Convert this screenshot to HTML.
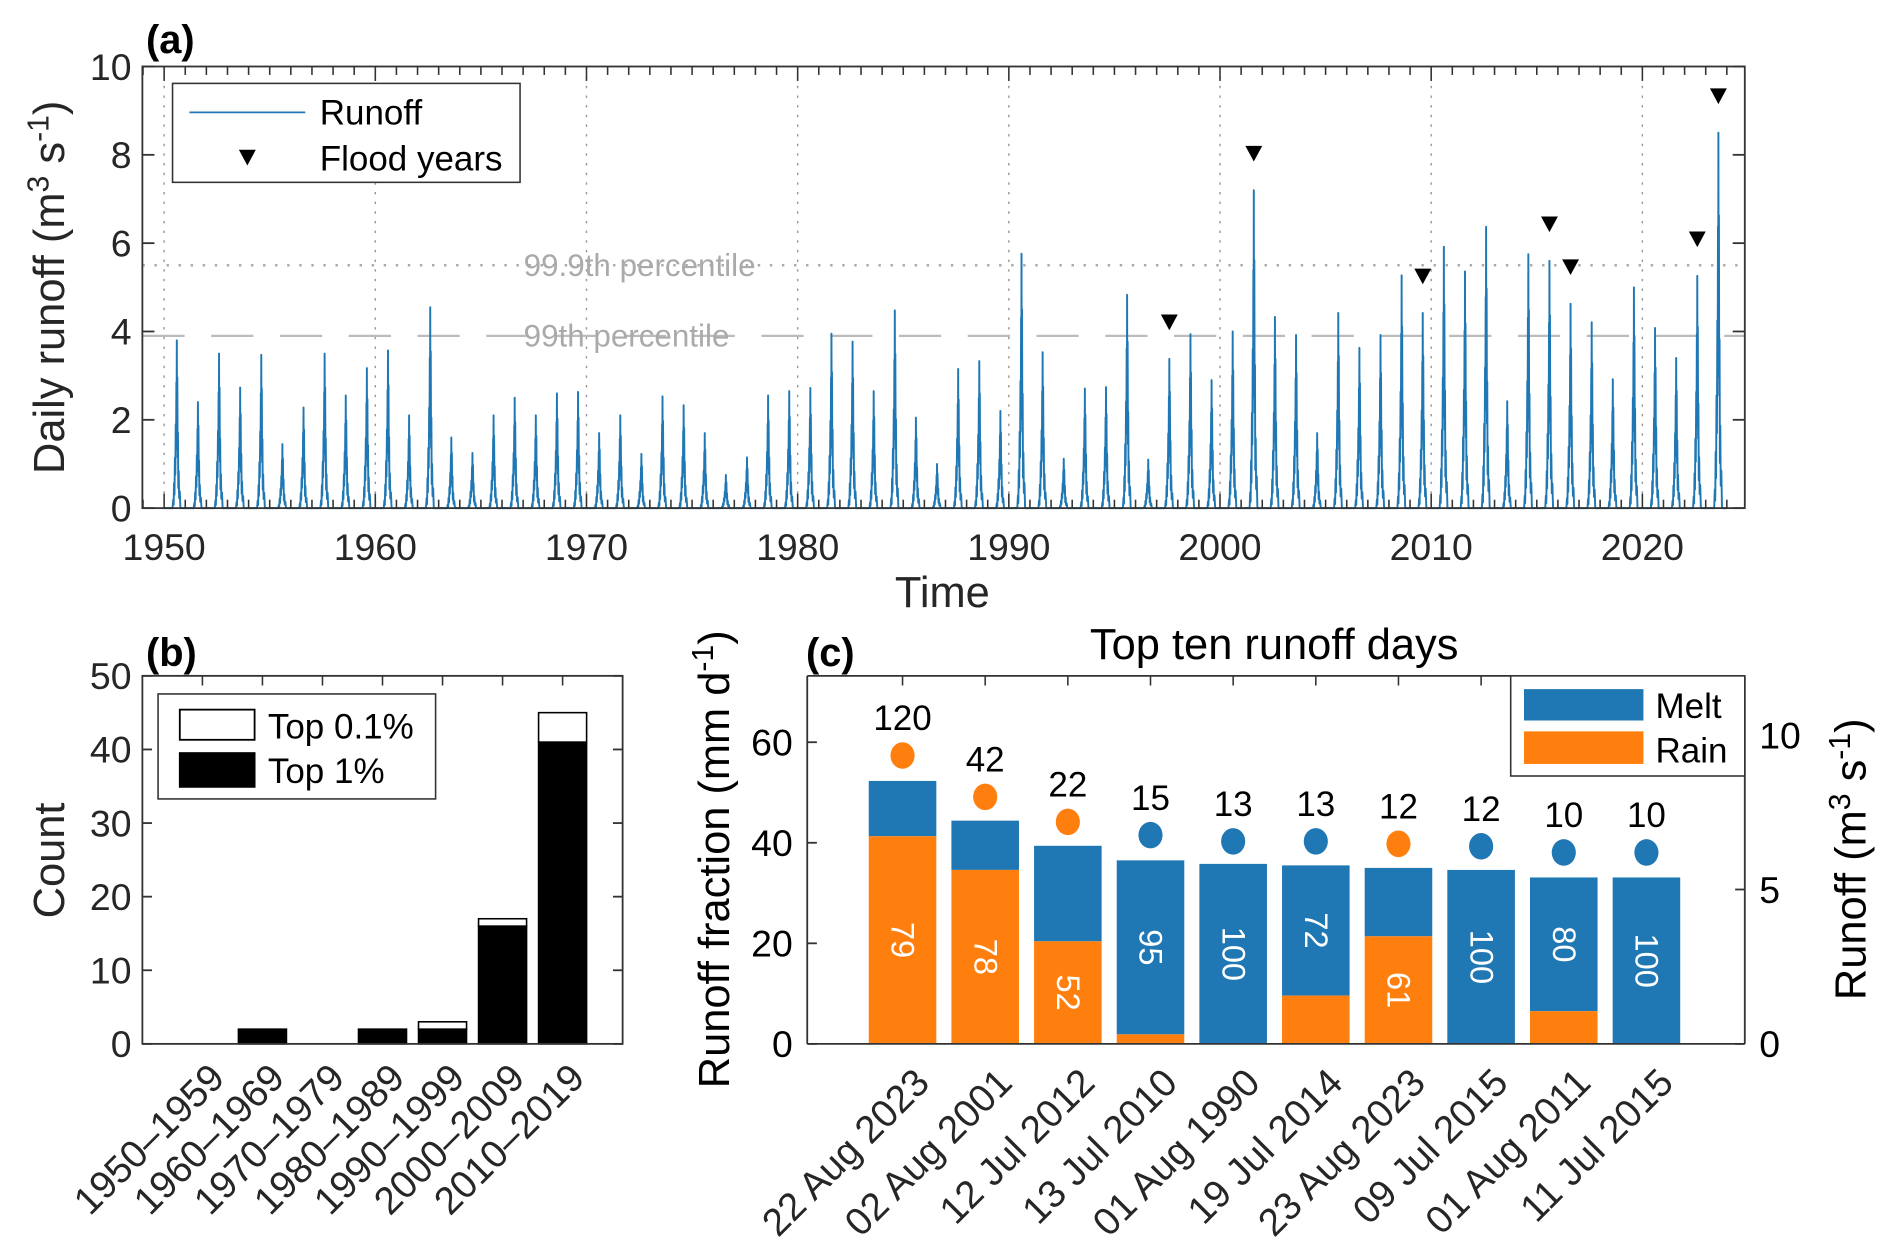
<!DOCTYPE html>
<html><head><meta charset="utf-8"><style>
html,body{margin:0;padding:0;background:#fff}
svg{display:block;font-family:"Liberation Sans",Arial,sans-serif}
</style></head><body>
<svg id="fig" width="1892" height="1260" viewBox="0 0 1568 1044" xmlns="http://www.w3.org/2000/svg">
<g id="pa"></g>
<g id="pb"></g>
<g id="pc"></g>
</svg>
<script>
// ---- Panel (a) data ----
const aStartYear = 1950;
const annualPeaks = [3.8,2.4,3.5,2.73,3.47,1.45,2.28,3.5,2.55,3.17,3.57,2.1,4.55,1.6,1.25,2.1,2.5,2.1,2.6,2.63,
 1.7,2.1,1.23,2.53,2.33,1.7,0.75,1.15,2.55,2.65,2.72,3.95,3.77,2.65,4.48,2.05,1.0,3.15,3.33,2.2,
 5.76,3.53,1.12,2.71,2.74,4.83,1.1,3.38,3.94,2.9,4.0,7.2,4.33,3.92,1.7,4.42,3.63,3.92,5.27,4.42,
 5.92,5.36,6.37,2.42,5.75,5.6,4.63,4.21,2.92,5.0,4.08,3.4,5.26,8.5];
const floodYears = [1997,2001,2009,2015,2016,2022,2023];
const p999 = 5.5, p99 = 3.9;
const aXTicks = [1950,1960,1970,1980,1990,2000,2010,2020];
const aYTicks = [0,2,4,6,8,10];
// ---- Panel (b) data ----
const bCats = ["1950–1959","1960–1969","1970–1979","1980–1989","1990–1999","2000–2009","2010–2019"];
const bTop1 = [0,2,0,2,2,16,41];
const bTop01 = [0,0,0,0,1,1,4];
const bYTicks = [0,10,20,30,40,50];
// ---- Panel (c) data ----
const cDates = ["22 Aug 2023","02 Aug 2001","12 Jul 2012","13 Jul 2010","01 Aug 1990","19 Jul 2014","23 Aug 2023","09 Jul 2015","01 Aug 2011","11 Jul 2015"];
const cTotal = [52.3,44.4,39.4,36.5,35.8,35.5,35.0,34.6,33.1,33.1];
const cRain = [41.3,34.6,20.4,1.9,0,9.6,21.4,0,6.5,0];
const cRunoff = [9.34,8.0,7.19,6.76,6.56,6.56,6.48,6.4,6.2,6.2];
const cCount = [120,42,22,15,13,13,12,12,10,10];
const cPct = [79,78,52,95,100,72,61,100,80,100];
const cYTicks = [0,20,40,60];
const cY2Ticks = [0,5,10];

const NS="http://www.w3.org/2000/svg";
const BLUE="#1f77b4", ORANGE="#ff7f0e";
const TICK=31, TITLE=36, LEG=29, ROT=32;
function mk(parent,tag,attrs,text){const e=document.createElementNS(NS,tag);for(const k in attrs)e.setAttribute(k,attrs[k]);if(text!==undefined)e.textContent=text;parent.appendChild(e);return e;}
function lin(d0,d1,r0,r1){return v=>r0+(v-d0)*(r1-r0)/(d1-d0);}

// ================= Panel A =================
(function(){
const g=document.getElementById('pa');
const L=118,R=1446,T=55,B=421;
const x=lin(1948.97,2024.85,L,R), y=lin(0,10,B,T);
aXTicks.forEach(t=>{const e=mk(g,'line',{x1:x(t),x2:x(t),y1:T,y2:B,stroke:'#999','stroke-width':1.2,'stroke-dasharray':'2,6'});
});
let e=mk(g,'line',{x1:L,x2:R,y1:y(p999),y2:y(p999),stroke:'#aaa','stroke-width':2,'stroke-dasharray':'2,8'});

e=mk(g,'line',{x1:L,x2:R,y1:y(p99),y2:y(p99),stroke:'#bbb','stroke-width':1.8,'stroke-dasharray':'35,22'});

const shape=[[0.4,0],[0.43,0.05],[0.45,0.02],[0.47,0.15],[0.49,0.08],[0.51,0.3],[0.53,0.2],[0.55,0.5],[0.565,0.35],[0.58,0.75],[0.59,0.45],[0.6,1],[0.61,0.5],[0.625,0.78],[0.64,0.3],[0.655,0.45],[0.67,0.12],[0.69,0.22],[0.71,0.06],[0.74,0.1],[0.77,0],[1,0]];
let d='M'+x(aStartYear)+','+y(0);
annualPeaks.forEach((p,i)=>{const yr=aStartYear+i;shape.forEach(s=>{d+=' L'+x(yr+s[0]).toFixed(2)+','+y(p*s[1]).toFixed(2);});});
e=mk(g,'path',{d:d,fill:'none',stroke:BLUE,'stroke-width':1.6,'stroke-linejoin':'round'});

e=mk(g,'text',{x:434,y:y(p999)+9,fill:'#aaa','font-size':26},'99.9th percentile');

e=mk(g,'text',{x:434,y:y(p99)+9,fill:'#aaa','font-size':26},'99th percentile');

floodYears.forEach(fy=>{const p=annualPeaks[fy-aStartYear]+0.84;const cx=x(fy+0.6),cy=y(p);
const t=mk(g,'path',{d:`M${cx-7},${cy-6} L${cx+7},${cy-6} L${cx},${cy+7} Z`,fill:'#000'});
});
e=mk(g,'rect',{x:L,y:T,width:R-L,height:B-T,fill:'none',stroke:'#333','stroke-width':1.5});

for(let yr=1949;yr<=2024;yr++){const len=(yr%10===0)?12:7;
mk(g,'line',{x1:x(yr),x2:x(yr),y1:B,y2:B-len,stroke:'#333','stroke-width':1.3});
mk(g,'line',{x1:x(yr),x2:x(yr),y1:T,y2:T+len,stroke:'#333','stroke-width':1.3});}
aXTicks.forEach(t=>{const l=mk(g,'text',{x:x(t),y:B+43,'text-anchor':'middle','font-size':TICK,fill:'#262626'},String(t));
});
aYTicks.forEach(t=>{mk(g,'line',{x1:L,x2:L+10,y1:y(t),y2:y(t),stroke:'#333','stroke-width':1.5});
mk(g,'line',{x1:R,x2:R-10,y1:y(t),y2:y(t),stroke:'#333','stroke-width':1.5});
const l=mk(g,'text',{x:L-9,y:y(t)+11,'text-anchor':'end','font-size':TICK,fill:'#262626'},String(t));
});
e=mk(g,'text',{x:781,y:503,'text-anchor':'middle','font-size':TITLE,fill:'#262626'},'Time');

e=mk(g,'text',{transform:'translate(53,238) rotate(-90)','text-anchor':'middle','font-size':TITLE,fill:'#262626'});

e.innerHTML='Daily runoff (m<tspan dy="-13" font-size="25">3</tspan><tspan dy="13"> s</tspan><tspan dy="-13" font-size="25">-1</tspan><tspan dy="13">)</tspan>';
e=mk(g,'text',{x:121,y:44,'font-size':33,'font-weight':'bold',fill:'#000'},'(a)');

const lg=mk(g,'g',{});
mk(lg,'rect',{x:143,y:69,width:288,height:82,fill:'#fff',stroke:'#333','stroke-width':1.3});
mk(lg,'line',{x1:157,x2:253,y1:93,y2:93,stroke:BLUE,'stroke-width':1.5});
mk(lg,'text',{x:265,y:103,'font-size':LEG,fill:'#000'},'Runoff');
mk(lg,'path',{d:'M198,124 L212,124 L205,137 Z',fill:'#000'});
mk(lg,'text',{x:265,y:141,'font-size':LEG,fill:'#000'},'Flood years');
})();

// ================= Panel B =================
(function(){
const g=document.getElementById('pb');
const L=118,R=516,T=560,B=865;
const x=lin(0,8,L,R), y=lin(0,50,B,T);
const bw=0.8*(R-L)/8;
bCats.forEach((c,i)=>{const cx=x(i+1);
const b1=mk(g,'rect',{x:cx-bw/2,y:y(bTop1[i]),width:bw,height:y(0)-y(bTop1[i]),fill:'#000',stroke:'#000','stroke-width':1.3});

const b2=mk(g,'rect',{x:cx-bw/2,y:y(bTop1[i]+bTop01[i]),width:bw,height:y(bTop1[i])-y(bTop1[i]+bTop01[i]),fill:'#fff',stroke:'#000','stroke-width':1.3});

const l=mk(g,'text',{transform:`translate(${cx+20},${B+30}) rotate(-45)`,'text-anchor':'end','font-size':ROT,fill:'#262626'},c);

mk(g,'line',{x1:cx,x2:cx,y1:T,y2:T+8,stroke:'#333','stroke-width':1.3});
});
let e=mk(g,'rect',{x:L,y:T,width:R-L,height:B-T,fill:'none',stroke:'#333','stroke-width':1.5});

bYTicks.forEach(t=>{mk(g,'line',{x1:L,x2:L+8,y1:y(t),y2:y(t),stroke:'#333','stroke-width':1.5});
mk(g,'line',{x1:R,x2:R-8,y1:y(t),y2:y(t),stroke:'#333','stroke-width':1.5});
const l=mk(g,'text',{x:L-9,y:y(t)+11,'text-anchor':'end','font-size':TICK,fill:'#262626'},String(t));
});
e=mk(g,'text',{transform:'translate(53,713) rotate(-90)','text-anchor':'middle','font-size':TITLE,fill:'#262626'},'Count');

e=mk(g,'text',{x:121,y:552,'font-size':33,'font-weight':'bold',fill:'#000'},'(b)');

const lg=mk(g,'g',{});
mk(lg,'rect',{x:131,y:575,width:230,height:87,fill:'#fff',stroke:'#333','stroke-width':1.3});
mk(lg,'rect',{x:149,y:588,width:62,height:25,fill:'#fff',stroke:'#000','stroke-width':1.5});
mk(lg,'rect',{x:149,y:624,width:62,height:28,fill:'#000',stroke:'#000','stroke-width':1.5});
mk(lg,'text',{x:222,y:612,'font-size':LEG,fill:'#000'},'Top 0.1%');
mk(lg,'text',{x:222,y:649,'font-size':LEG,fill:'#000'},'Top 1%');
})();

// ================= Panel C =================
(function(){
const g=document.getElementById('pc');
const L=669,R=1446,T=560,B=865;
const x=lin(-1.153,10.19,L,R), y=lin(0,73.2,B,T), y2=lin(0,11.92,B,T);
const bw=56;
cDates.forEach((dt,i)=>{const cx=x(i);
const m=mk(g,'rect',{x:cx-bw/2,y:y(cTotal[i]),width:bw,height:y(cRain[i])-y(cTotal[i]),fill:BLUE});

const r=mk(g,'rect',{x:cx-bw/2,y:y(cRain[i]),width:bw,height:y(0)-y(cRain[i]),fill:ORANGE});

const rainDom=cRain[i]>cTotal[i]-cRain[i];
const mid=rainDom?cRain[i]/2:(cRain[i]+cTotal[i])/2;
const pl=mk(g,'text',{transform:`translate(${cx-9},${y(mid)}) rotate(90)`,'text-anchor':'middle','font-size':27,fill:'#fff'},String(cPct[i]));

const dot=mk(g,'ellipse',{cx:cx,cy:y2(cRunoff[i]),rx:10,ry:11,fill:rainDom?ORANGE:BLUE});

const cl=mk(g,'text',{x:cx,y:y2(cRunoff[i])-21,'text-anchor':'middle','font-size':29,fill:'#000'},String(cCount[i]));

const l=mk(g,'text',{transform:`translate(${cx+24},${B+34}) rotate(-45)`,'text-anchor':'end','font-size':ROT,fill:'#262626'},dt);

mk(g,'line',{x1:cx,x2:cx,y1:T,y2:T+8,stroke:'#333','stroke-width':1.3});
});
mk(g,'line',{x1:L,x2:R,y1:B,y2:B,stroke:'#333','stroke-width':1.5});
mk(g,'line',{x1:L,x2:R,y1:T,y2:T,stroke:'#333','stroke-width':1.5});
mk(g,'line',{x1:L,x2:L,y1:T,y2:B,stroke:'#333','stroke-width':1.5});
mk(g,'line',{x1:R,x2:R,y1:T,y2:B,stroke:'#333','stroke-width':1.5});
cYTicks.forEach(t=>{mk(g,'line',{x1:L,x2:L+8,y1:y(t),y2:y(t),stroke:'#333','stroke-width':1.5});
const l=mk(g,'text',{x:L-12,y:y(t)+11,'text-anchor':'end','font-size':TICK,fill:'#000'},String(t));
});
cY2Ticks.forEach(t=>{mk(g,'line',{x1:R,x2:R-8,y1:y2(t),y2:y2(t),stroke:'#333','stroke-width':1.5});
const l=mk(g,'text',{x:R+12,y:y2(t)+11,'text-anchor':'start','font-size':TICK,fill:'#000'},String(t));
});
let e=mk(g,'text',{x:1056,y:546,'text-anchor':'middle','font-size':TITLE,fill:'#000'},'Top ten runoff days');

e=mk(g,'text',{x:668,y:552,'font-size':33,'font-weight':'bold',fill:'#000'},'(c)');

e=mk(g,'text',{transform:'translate(604,712) rotate(-90)','text-anchor':'middle','font-size':TITLE,fill:'#000'});

e.innerHTML='Runoff fraction (mm d<tspan dy="-13" font-size="25">-1</tspan><tspan dy="13">)</tspan>';
e=mk(g,'text',{transform:'translate(1546,712) rotate(-90)','text-anchor':'middle','font-size':TITLE,fill:'#000'});

e.innerHTML='Runoff (m<tspan dy="-13" font-size="25">3</tspan><tspan dy="13"> s</tspan><tspan dy="-13" font-size="25">-1</tspan><tspan dy="13">)</tspan>';
const lg=mk(g,'g',{});
mk(lg,'rect',{x:1252,y:560,width:194,height:83,fill:'#fff',stroke:'#333','stroke-width':1.3});
mk(lg,'rect',{x:1263,y:571,width:99,height:26,fill:BLUE});
mk(lg,'rect',{x:1263,y:606,width:99,height:27,fill:ORANGE});
mk(lg,'text',{x:1372,y:595,'font-size':LEG,fill:'#000'},'Melt');
mk(lg,'text',{x:1372,y:632,'font-size':LEG,fill:'#000'},'Rain');
})();
</script>
</body></html>
